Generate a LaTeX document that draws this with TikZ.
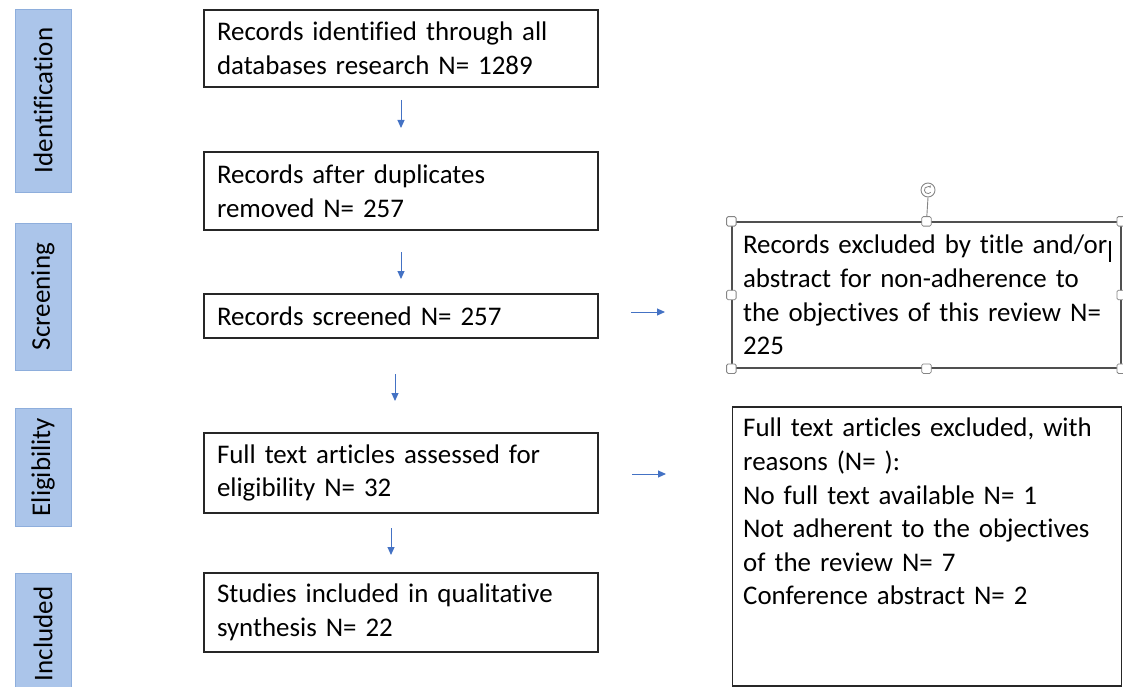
\documentclass[tikz,border=0pt]{standalone}
\usepackage{fontspec}
\setmainfont{Carlito}[Ligatures={NoCommon}]
\usetikzlibrary{arrows.meta}
\definecolor{arrowblue}{HTML}{4472C4}
\definecolor{labfill}{HTML}{ABC5EA}
\definecolor{labdraw}{HTML}{8EAEDC}
\definecolor{selgrey}{HTML}{505050}
\definecolor{handlegrey}{HTML}{858585}
\begin{document}
\begin{tikzpicture}[x=1pt,y=-1pt,
  txt/.style={font=\fontsize{26.9}{33.6}\selectfont},
  flowbox/.style={txt, draw=black!85, line width=1.3pt, minimum width=394pt,
    inner xsep=13pt, inner ysep=0pt, text width=368pt, align=left},
  sidebox/.style={txt, line width=1.3pt, minimum width=389pt,
    inner xsep=11pt, inner ysep=0pt, text width=367pt, align=left},
  lab/.style={font=\fontsize{27}{32}\selectfont, fill=labfill, draw=labdraw,
    line width=0.9pt, rotate=90, minimum height=56pt, inner sep=0pt},
  flowarrow/.style={draw=arrowblue, line width=1pt,
    -{Triangle[length=8pt,width=7pt]}},
  handle/.style={draw=handlegrey, fill=white, minimum size=9.5pt, inner sep=0pt,
    rounded corners=1.5pt, line width=0.8pt},
]
\useasboundingbox (0,0) rectangle (1123,687);
\clip (0,0) rectangle (1123,687);

% phase labels
\node[lab, minimum width=183pt] (lid) at (43,100.5) {Identification};
\node[lab, minimum width=147pt] (lsc) at (43,296.5) {Screening};
\node[lab, minimum width=118pt] (lel) at (43,467) {Eligibility};
\node[lab, minimum width=122pt] (lin) at (43,634) {Included};

% main flow
\node[flowbox, minimum height=77pt] (b1) at (401,48.5)
  {Records identified through all\\databases research N= 1289};
\node[flowbox, minimum height=78pt] (b2) at (401,191)
  {Records after duplicates\\removed N= 257};
\node[flowbox, minimum height=44pt] (b3) at (401,316)
  {Records screened N= 257};
\node[flowbox, minimum height=80pt] (b4) at (401,473)
  {Full text articles assessed for\\eligibility N= 32};
\node[flowbox, minimum height=79pt] (b5) at (401,612.5)
  {Studies included in qualitative\\synthesis N= 22};

% side boxes
\node[sidebox, draw=selgrey, minimum height=146pt] (rb1) at (926.5,295)
  {\mbox{Records excluded by title and/or}\\\mbox{abstract for non-adherence to}\\\mbox{the objectives of this review N=}\\225};
\node[sidebox, draw=black!85, minimum height=279pt] (rb2) at (926.75,546.5) {};
\node[txt, anchor=north west, inner sep=0pt, text width=370pt, align=left] (rb2t) at (743,418)
  {Full text articles excluded, with\\reasons (N= ):\\No full text available N= 1\\Not adherent to the objectives\\of the review N= 7\\Conference abstract N= 2};

% arrows
\coordinate (a1s) at (401,100); \coordinate (a1e) at (401,128);
\coordinate (a2s) at (401,252); \coordinate (a2e) at (401,279);
\coordinate (a3s) at (395,374); \coordinate (a3e) at (395,401);
\coordinate (a4s) at (391,528); \coordinate (a4e) at (391,555);
\coordinate (h1s) at (631,312); \coordinate (h1e) at (665,312);
\coordinate (h2s) at (632,474); \coordinate (h2e) at (666,474);
\draw[flowarrow] (a1s) -- (a1e);
\draw[flowarrow] (a2s) -- (a2e);
\draw[flowarrow] (a3s) -- (a3e);
\draw[flowarrow] (a4s) -- (a4e);
\draw[flowarrow] (h1s) -- (h1e);
\draw[flowarrow] (h2s) -- (h2e);

% selection handles on rb1
\node[draw=handlegrey, fill=white, circle, minimum size=14pt, inner sep=0pt, line width=0.9pt] (rot) at (928,190) {};
\draw[handlegrey, line width=0.9pt] (rot.south) -- (rb1.north);
\draw[handlegrey, line width=0.8pt, -{Stealth[length=2.4pt,width=2.8pt]}]
  ([shift={(40:3.6)}]rot.center) arc[start angle=40, end angle=320, radius=3.6];
\foreach \a/\n in {north west/h1, north/h2, north east/h3, west/h4, east/h5, south west/h6, south/h7, south east/h8}
  \node[handle] (\n) at (rb1.\a) {};

% text cursor
\coordinate (cur1) at (1110,241); \coordinate (cur2) at (1110,262);
\draw[black, line width=1.2pt] (cur1) -- (cur2);
\end{tikzpicture}
\end{document}
